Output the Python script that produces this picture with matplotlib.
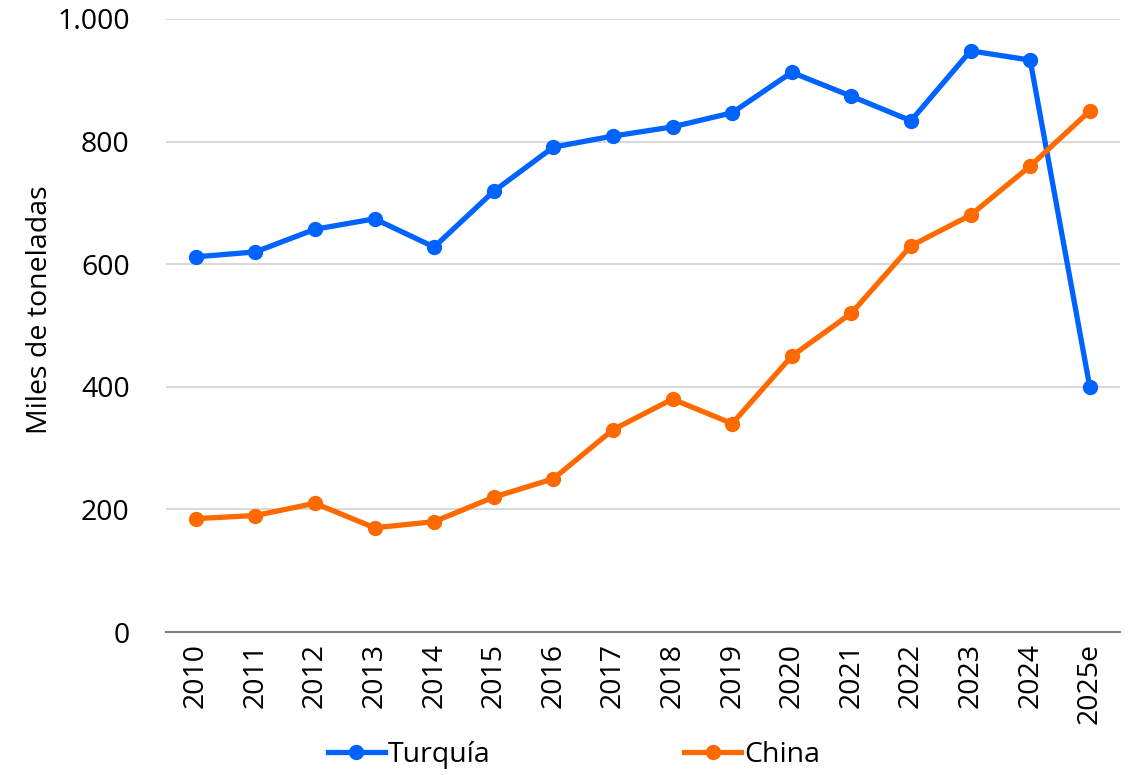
import matplotlib
matplotlib.use("Agg")
from matplotlib import pyplot as plt
import numpy as np

plt.rcParams['font.family'] = ['Open Sans', 'DejaVu Sans']

years = ['2010', '2011', '2012', '2013', '2014', '2015', '2016', '2017',
         '2018', '2019', '2020', '2021', '2022', '2023', '2024', '2025e']
turquia = [612, 620, 657, 674, 628, 719, 791, 809, 824, 847, 913, 874, 834, 948, 933, 400]
china = [185, 190, 210, 170, 180, 220, 250, 330, 380, 340, 450, 520, 630, 680, 760, 850]

blue = '#0062FF'
orange = '#FF6A00'

fig = plt.figure(figsize=(11.32, 7.75), dpi=100)
ax = fig.add_axes([0.1466, 0.1845, 0.8424, 0.791])

x = np.arange(len(years))
ax.plot(x, turquia, color=blue, lw=3.8, marker='o', ms=10, label='Turquía')
ax.plot(x, china, color=orange, lw=3.8, marker='o', ms=10, label='China')

ax.set_xlim(-0.5, len(years) - 0.5)
ax.set_ylim(0, 1000)
ax.set_yticks([0, 200, 400, 600, 800, 1000])
ax.set_yticklabels(['0', '200', '400', '600', '800', '1.000'])
ax.set_xticks(x)
ax.set_xticklabels(years, rotation=90)
ax.tick_params(axis='both', length=0, labelsize=20.5)
ax.tick_params(axis='y', pad=26)
ax.tick_params(axis='x', pad=8)

ax.grid(axis='y', color='#d9d9d9', lw=1.5)
ax.set_axisbelow(True)
for s in ['top', 'right', 'left']:
    ax.spines[s].set_visible(False)
ax.spines['bottom'].set_color('#808080')
ax.spines['bottom'].set_linewidth(1.5)

ax.set_ylabel('Miles de toneladas', fontsize=20.5)
ax.yaxis.set_label_coords(-0.117, 0.525)

fig.legend(loc='lower center', bbox_to_anchor=(0.507, -0.025), ncol=2, frameon=False,
           fontsize=20.5, handlelength=2.0, handletextpad=0.1, columnspacing=6.8)

fig.savefig('out.png', dpi=100)
